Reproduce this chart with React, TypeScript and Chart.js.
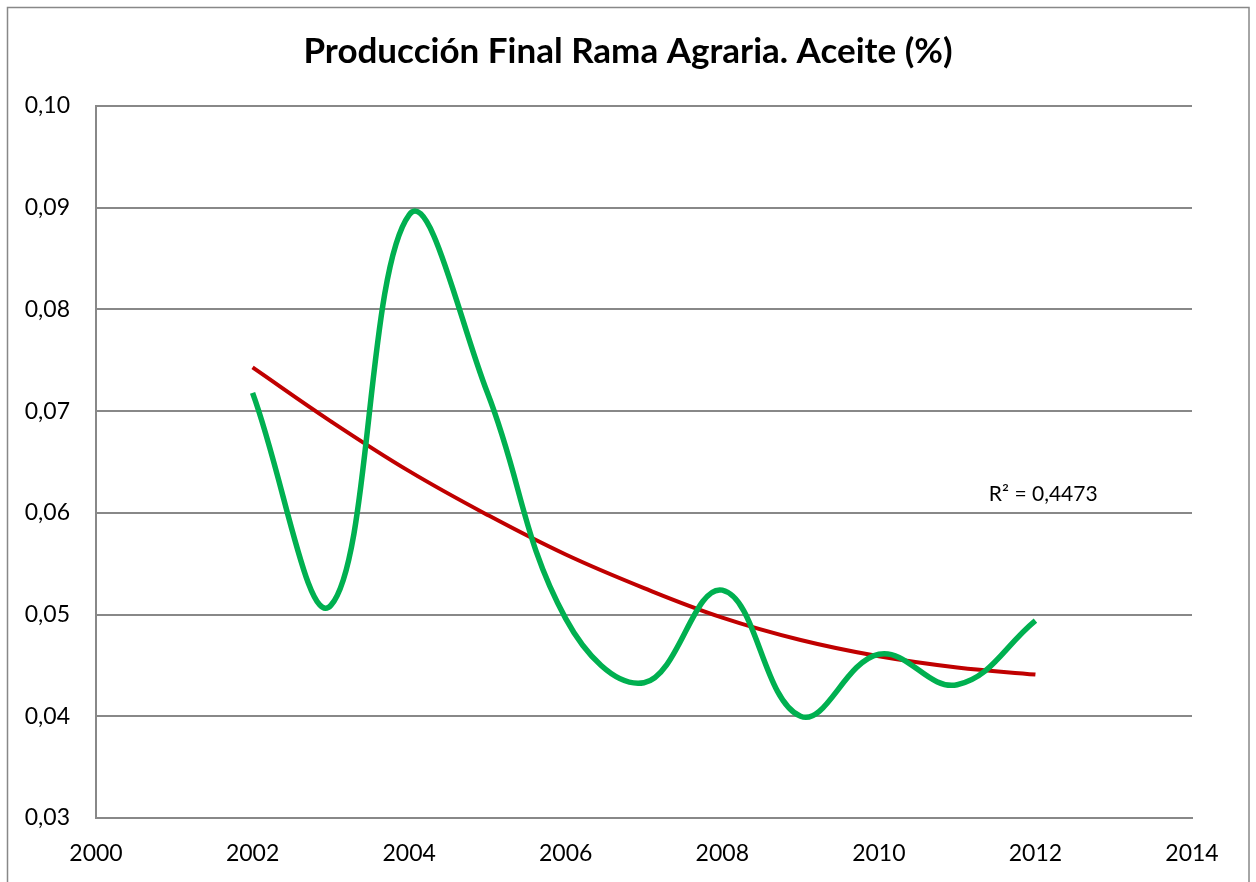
import React, { useEffect, useRef } from "react";
import { Chart, registerables } from "chart.js";

Chart.register(...registerables);

const years = [2002, 2003, 2004, 2005, 2006, 2007, 2008, 2009, 2010, 2011, 2012];
const aceite = [0.0718, 0.0509, 0.0893, 0.0718, 0.0496, 0.0433, 0.0524, 0.04, 0.0461, 0.0431, 0.0494];
const trend = [0.0743, 0.069, 0.0641, 0.0598, 0.0559, 0.0526, 0.0497, 0.0475, 0.0459, 0.0448, 0.0441];
const titleText = "Producción Final Rama Agraria. Aceite (%)";
const r2Label = "R² = 0,4473";
const r2Pos = { x: 2012.1, y: 0.0618 };

const FONT = "Lato, 'Open Sans', sans-serif";

const decor = {
  id: "decor",
  afterDraw(chart: any) {
    const ctx = chart.ctx;
    ctx.save();
    ctx.strokeStyle = "#888888";
    ctx.lineWidth = 1.5;
    ctx.strokeRect(7.5, 7.5, 1241.5, 890);
    ctx.fillStyle = "#000000";
    ctx.font = `bold 35px ${FONT}`;
    ctx.textAlign = "center";
    ctx.textBaseline = "middle";
    ctx.fillText(titleText, 628, 52);
    ctx.font = `21px ${FONT}`;
    const xs = chart.scales.x.getPixelForValue(r2Pos.x);
    const ys = chart.scales.y.getPixelForValue(r2Pos.y);
    ctx.fillText(r2Label, xs, ys);
    ctx.restore();
  },
};

export default function App() {
  const ref = useRef<HTMLCanvasElement>(null);
  useEffect(() => {
    document.body.style.margin = "0";
    const c = new Chart(ref.current!, {
      type: "line",
      data: {
        datasets: [
          {
            data: years.map((x, i) => ({ x, y: aceite[i] })),
            borderColor: "#00B050",
            borderWidth: 5.5,
            pointRadius: 0,
            tension: 0.4,
            fill: false,
          },
          {
            data: years.map((x, i) => ({ x, y: trend[i] })),
            borderColor: "#C00000",
            borderWidth: 4,
            pointRadius: 0,
            tension: 0.4,
            fill: false,
          },
        ],
      },
      options: {
        animation: false,
        responsive: false,
        layout: { padding: { left: 0, top: 106, right: 64, bottom: 0 } },
        plugins: { legend: { display: false }, tooltip: { enabled: false }, title: { display: false } },
        scales: {
          x: {
            type: "linear",
            min: 2000,
            max: 2014,
            ticks: { stepSize: 2, color: "#000", font: { family: FONT, size: 23 }, padding: 22, callback: (v: any) => String(v) },
            grid: { display: false, drawTicks: false },
            border: { color: "#888888", width: 2 },
            afterFit: (s: any) => { s.height = 64; },
          },
          y: {
            min: 0.03,
            max: 0.1,
            ticks: {
              stepSize: 0.01,
              color: "#000",
              font: { family: FONT, size: 23 },
              padding: 26,
              callback: (v: any) => Number(v).toFixed(2).replace(".", ","),
            },
            grid: { color: "#888888", lineWidth: 2, drawTicks: false },
            border: { color: "#888888", width: 2 },
            afterFit: (s: any) => { s.width = 96; },
          },
        },
      },
      plugins: [decor],
    });
    return () => c.destroy();
  }, []);
  return <canvas ref={ref} width={1256} height={882} style={{ display: "block" }} />;
}
